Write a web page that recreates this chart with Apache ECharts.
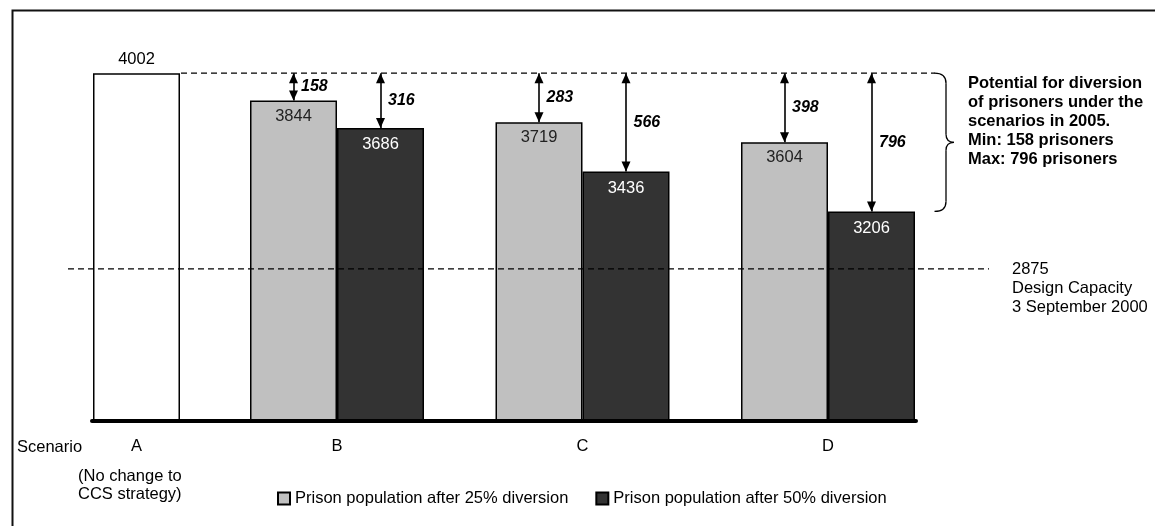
<!DOCTYPE html>
<html>
<head>
<meta charset="utf-8">
<script src="https://cdn.jsdelivr.net/npm/echarts@6/dist/echarts.min.js"></script>
<style>
html,body{margin:0;padding:0;background:#fff;}
#chart{width:1155px;height:526px;}
</style>
</head>
<body>
<div id="chart"></div>
<script>
// ---- data ----
const scenarioA = ['A'];
const scenarioAValue = [4002];               // no change to CCS strategy
const diversionScenarios = ['B', 'C', 'D'];
const after25 = [3844, 3719, 3604];          // after 25% diversion
const after50 = [3686, 3436, 3206];          // after 50% diversion
const designCapacity = 2875;
const seriesNames = ['Prison population after 25% diversion', 'Prison population after 50% diversion'];

// ---- layout / style ----
const FONT = "'Liberation Sans', Arial, sans-serif";
const FS = 16.5;
const Y_MIN = 2000, Y_MAX = 4400;
const GRID_TOP = 4, GRID_BOTTOM = 105;
const base = scenarioAValue[0];

function yAxisCfg(gi) {
  return { type: 'value', gridIndex: gi, min: Y_MIN, max: Y_MAX, show: false };
}
function gridCfg(left, width) {
  return { left: left, width: width, top: GRID_TOP, bottom: GRID_BOTTOM, outerBoundsMode: 'none', containLabel: false };
}
const catLabel = { show: true, margin: 17, color: '#000', fontSize: FS, fontFamily: FONT };

function arrowLines(values) {
  return diversionScenarios.map((c, i) => [{ coord: [c, base] }, { coord: [c, values[i]] }]);
}
function diffPoints(values) {
  return diversionScenarios.map((c, i) => ({ coord: [c, (base + values[i]) / 2], value: base - values[i] }));
}
const markLineCfg = (values) => ({
  silent: true,
  symbol: ['triangle', 'triangle'],
  symbolSize: [9, 10],
  symbolOffset: [[0, 5], [0, 5]],
  lineStyle: { color: '#000', width: 1.6, type: 'solid' },
  label: { show: false },
  emphasis: { disabled: true },
  data: arrowLines(values)
});
const markPointCfg = (values) => ({
  silent: true,
  symbol: 'rect',
  symbolSize: 1,
  itemStyle: { color: 'rgba(0,0,0,0)' },
  label: {
    show: true, position: 'right', distance: 7, formatter: '{c}',
    color: '#000', fontSize: 16, fontWeight: 'bold', fontStyle: 'italic', fontFamily: FONT
  },
  data: diffPoints(values)
});

const option = {
  backgroundColor: '#fff',
  animation: false,
  textStyle: { fontFamily: FONT },
  grid: [
    gridCfg(92, 89),          // scenario A
    gridCfg(214.25, 736.5),   // scenarios B, C, D
    gridCfg(92, 824),         // baseline
    gridCfg(68, 921),         // design capacity line
    gridCfg(181, 754)         // current population level line
  ],
  xAxis: [
    { type: 'category', gridIndex: 0, data: scenarioA, axisLine: { show: false }, axisTick: { show: false }, axisLabel: catLabel },
    { type: 'category', gridIndex: 1, data: diversionScenarios, axisLine: { show: false }, axisTick: { show: false }, axisLabel: catLabel },
    { type: 'value', gridIndex: 2, min: 0, max: 1, z: 10, axisLine: { show: true, lineStyle: { color: '#000', width: 4 } }, axisTick: { show: false }, axisLabel: { show: false }, splitLine: { show: false } },
    { type: 'value', gridIndex: 3, min: 0, max: 1, show: false },
    { type: 'value', gridIndex: 4, min: 0, max: 1, show: false }
  ],
  yAxis: [yAxisCfg(0), yAxisCfg(1), yAxisCfg(2), yAxisCfg(3), yAxisCfg(4)],
  legend: {
    data: seriesNames,
    left: 277, top: 490, padding: 0,
    itemWidth: 12, itemHeight: 12, itemGap: 27,
    icon: 'rect',
    textStyle: { color: '#000', fontSize: FS, fontFamily: FONT }
  },
  series: [
    {
      name: 'Scenario A', type: 'bar', xAxisIndex: 0, yAxisIndex: 0,
      data: scenarioAValue, barWidth: 87,
      itemStyle: { color: '#fff', borderColor: '#000', borderWidth: 1.5 },
      label: { show: true, position: 'top', distance: 5, color: '#000', fontSize: FS, fontFamily: FONT }
    },
    {
      name: seriesNames[0], type: 'bar', xAxisIndex: 1, yAxisIndex: 1,
      data: after25, barWidth: 87, barGap: '0%',
      itemStyle: { color: '#C0C0C0', borderColor: '#000', borderWidth: 1.5 },
      label: { show: true, position: 'insideTop', distance: 7, color: '#222', fontSize: FS, fontFamily: FONT },
      markLine: markLineCfg(after25),
      markPoint: markPointCfg(after25)
    },
    {
      name: seriesNames[1], type: 'bar', xAxisIndex: 1, yAxisIndex: 1,
      data: after50, barWidth: 87, barGap: '0%',
      itemStyle: { color: '#333333', borderColor: '#000', borderWidth: 1.5 },
      label: { show: true, position: 'insideTop', distance: 8, color: '#fff', fontSize: FS, fontFamily: FONT },
      markLine: markLineCfg(after50),
      markPoint: markPointCfg(after50)
    },
    {
      name: 'Design capacity', type: 'line', xAxisIndex: 3, yAxisIndex: 3,
      data: [[0, designCapacity], [1, designCapacity]], symbol: 'none', silent: true,
      lineStyle: { color: '#000', width: 1.3, type: [6, 4] }
    },
    {
      name: 'Current level', type: 'line', xAxisIndex: 4, yAxisIndex: 4,
      data: [[0, base], [1, base]], symbol: 'none', silent: true,
      lineStyle: { color: '#000', width: 1.3, type: [6, 4] }
    }
  ]
};

const chart = echarts.init(document.getElementById('chart'), null, { renderer: 'canvas' });
chart.setOption(option);

// annotations positioned through the library's scales
const yTop = chart.convertToPixel({ yAxisIndex: 1 }, base);
const yLow = chart.convertToPixel({ yAxisIndex: 1 }, Math.min(...after50));
const yCap = chart.convertToPixel({ yAxisIndex: 3 }, designCapacity);
const yMid = (yTop + yLow) / 2;
const minDiv = base - Math.max(...after25, ...after50);
const maxDiv = base - Math.min(...after25, ...after50);

const bx0 = 934.5, bx1 = 946, bx2 = 954;
const braceStyle = { fill: 'none', stroke: '#000', lineWidth: 1.3 };
const brace = [
  { type: 'bezierCurve', silent: true, shape: { x1: bx0, y1: yTop, cpx1: bx1, cpy1: yTop, x2: bx1, y2: yTop + 10 }, style: braceStyle },
  { type: 'line', silent: true, shape: { x1: bx1, y1: yTop + 10, x2: bx1, y2: yMid - 8 }, style: braceStyle },
  { type: 'bezierCurve', silent: true, shape: { x1: bx1, y1: yMid - 8, cpx1: bx1, cpy1: yMid, x2: bx2, y2: yMid }, style: braceStyle },
  { type: 'bezierCurve', silent: true, shape: { x1: bx2, y1: yMid, cpx1: bx1, cpy1: yMid, x2: bx1, y2: yMid + 8 }, style: braceStyle },
  { type: 'line', silent: true, shape: { x1: bx1, y1: yMid + 8, x2: bx1, y2: yLow - 10 }, style: braceStyle },
  { type: 'bezierCurve', silent: true, shape: { x1: bx1, y1: yLow - 10, cpx1: bx1, cpy1: yLow, x2: bx0, y2: yLow }, style: braceStyle }
];

chart.setOption({
  graphic: [
    { type: 'rect', silent: true, shape: { x: 12.5, y: 10.5, width: 1200, height: 600 },
      style: { fill: 'none', stroke: '#111', lineWidth: 2 } },
    { type: 'text', silent: true, x: 17, y: 447,
      style: { text: 'Scenario', fill: '#000', fontSize: FS, fontFamily: FONT, verticalAlign: 'middle' } },
    { type: 'text', silent: true, x: 78, y: 467,
      style: { text: '(No change to\nCCS strategy)', fill: '#000', fontSize: FS, fontFamily: FONT, lineHeight: 18, verticalAlign: 'top' } },
    { type: 'text', silent: true, x: 968, y: yTop + 0.5,
      style: { text: 'Potential for diversion\nof prisoners under the\nscenarios in 2005.\nMin: ' + minDiv + ' prisoners\nMax: ' + maxDiv + ' prisoners',
        fill: '#000', fontSize: FS, fontWeight: 'bold', fontFamily: FONT, lineHeight: 19, verticalAlign: 'top' } },
    { type: 'text', silent: true, x: 1012, y: yCap - 9.5,
      style: { text: designCapacity + '\nDesign Capacity\n3 September 2000',
        fill: '#000', fontSize: FS, fontFamily: FONT, lineHeight: 19, verticalAlign: 'top' } }
  ].concat(brace)
});
</script>
</body>
</html>
